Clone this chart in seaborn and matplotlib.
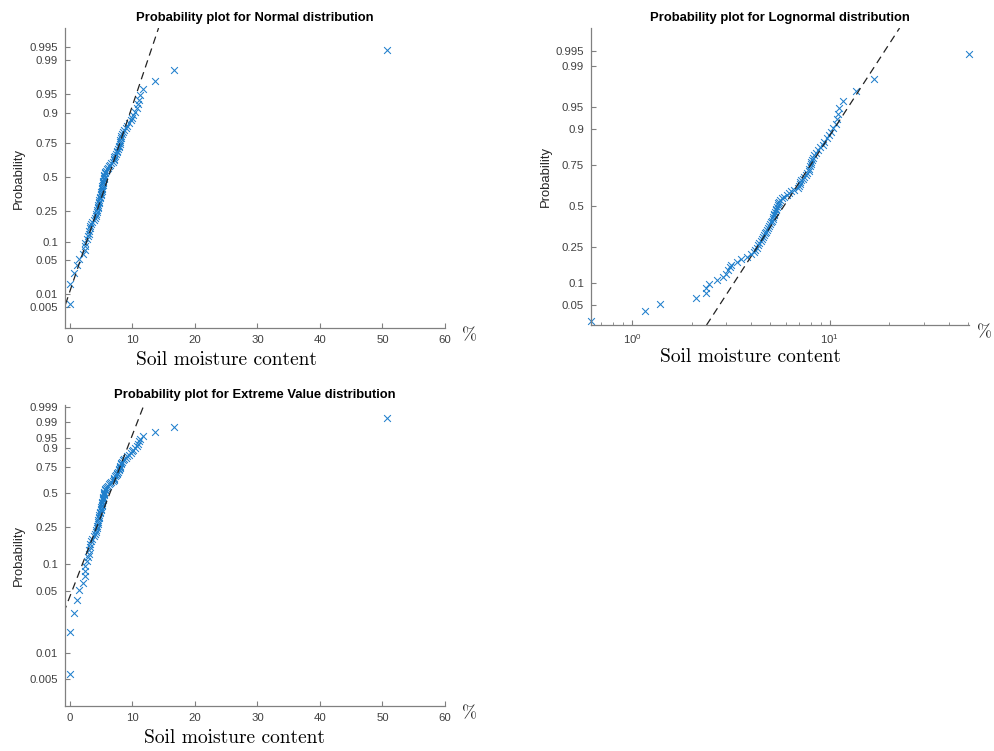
import math
from statistics import NormalDist

import matplotlib
matplotlib.use("Agg")
import matplotlib.pyplot as plt
import numpy as np
import pandas as pd
import seaborn as sns

# sorted soil moisture sample (%)
moisture = [
    0.0, 0.0, 0.62, 1.16, 1.38, 2.1, 2.37, 2.37, 2.46, 2.68,
    2.9, 2.99, 3.05, 3.13, 3.17, 3.4, 3.55, 3.8, 4.02, 4.12,
    4.2, 4.28, 4.35, 4.41, 4.5, 4.55, 4.6, 4.65, 4.7, 4.77,
    4.82, 4.9, 4.95, 5.0, 5.05, 5.1, 5.14, 5.18, 5.22, 5.25,
    5.3, 5.35, 5.38, 5.4, 5.45, 5.5, 5.55, 5.6, 5.75, 5.9,
    6.1, 6.25, 6.4, 6.6, 6.9, 7.0, 7.05, 7.1, 7.2, 7.3,
    7.45, 7.6, 7.7, 7.85, 7.9, 7.95, 8.0, 8.05, 8.1, 8.2,
    8.3, 8.5, 8.7, 8.9, 9.2, 9.4, 9.7, 9.9, 10.1, 10.4,
    10.8, 10.9, 11.0, 11.2, 11.66, 13.6, 16.7, 50.7,
]

normal_ticks = [0.005, 0.01, 0.05, 0.1, 0.25, 0.5, 0.75, 0.9, 0.95, 0.99, 0.995]
lognormal_ticks = [0.05, 0.1, 0.25, 0.5, 0.75, 0.9, 0.95, 0.99, 0.995]
ev_ticks = [0.005, 0.01, 0.05, 0.1, 0.25, 0.5, 0.75, 0.9, 0.95, 0.99, 0.999]

BLUE = "#1f7fcc"
GREY = "#808080"
TXT = "#404040"

nd = NormalDist()


def norm_q(p):
    return nd.inv_cdf(p)


def ev_q(p):
    # minimum extreme value (Gumbel) quantile on standard scale
    return math.log(-math.log(1.0 - p))


n = len(moisture)
df = pd.DataFrame({"moisture": moisture})
df["p"] = (np.arange(1, n + 1) - 0.5) / n
df["z"] = df["p"].map(norm_q)
df["ev"] = df["p"].map(ev_q)

# reference line through the first and third quartiles (like MATLAB probplot)
q25, q75 = np.percentile(df["moisture"], [25, 75], method="hazen")

sns.set_style("ticks")
plt.rcParams["font.family"] = ["Liberation Sans", "DejaVu Sans"]
plt.rcParams.update({
    "axes.edgecolor": GREY,
    "axes.linewidth": 0.9,
    "xtick.color": GREY,
    "ytick.color": GREY,
    "xtick.labelcolor": TXT,
    "ytick.labelcolor": TXT,
    "xtick.direction": "in",
    "ytick.direction": "in",
    "xtick.major.size": 3.5,
    "ytick.major.size": 3.5,
    "xtick.minor.size": 2,
    "xtick.major.pad": 5.0,
    "ytick.major.pad": 5.0,
    "xtick.labelsize": 8.2,
    "ytick.labelsize": 8.2,
})

fig = plt.figure(figsize=(9.95, 7.51), dpi=100)
ax_n = fig.add_axes([0.0653, 0.5632, 0.3819, 0.3995])
ax_l = fig.add_axes([0.5940, 0.5672, 0.3799, 0.3955])
ax_e = fig.add_axes([0.0653, 0.0599, 0.3819, 0.4008])

dash = (0, (6, 4))
serif = "cmr10"


def finish(ax, title, ticks, qfun, lbl_x, pct_x):
    ax.set_yticks([qfun(p) for p in ticks])
    ax.set_yticklabels([f"{p:g}" for p in ticks])
    ax.set_title(title, fontsize=9.4, fontweight="bold", color="black", pad=5)
    ax.set_ylabel("Probability", fontsize=9.4, color="#262626", labelpad=3)
    ax.set_xlabel("Soil moisture content", fontsize=14, family=serif, color="black")
    ax.xaxis.set_label_coords(lbl_x, -0.078)
    ax.text(pct_x, -0.025, "%", transform=ax.transAxes, fontsize=13, family=serif,
            ha="left", va="center")
    sns.despine(ax=ax)


# Normal
sig = (q75 - q25) / (norm_q(0.75) - norm_q(0.25))
mu = q25 - sig * norm_q(0.25)
zlim = (-3.0, 2.96)
sns.lineplot(x=[mu + sig * zlim[0], mu + sig * zlim[1]], y=list(zlim), color="#222222",
             lw=0.9, linestyle=dash, ax=ax_n)
sns.scatterplot(data=df, x="moisture", y="z", marker="x", color=BLUE, s=24,
                linewidth=0.75, clip_on=False, ax=ax_n)
ax_n.set_xlim(-0.8, 60)
ax_n.set_ylim(*zlim)
ax_n.set_xticks([0, 10, 20, 30, 40, 50, 60])
finish(ax_n, "Probability plot for Normal distribution", normal_ticks, norm_q, 0.425, 1.045)

# Lognormal
pos = df[df["moisture"] > 0]
lsig = (math.log(q75) - math.log(q25)) / (norm_q(0.75) - norm_q(0.25))
lmu = math.log(q25) - lsig * norm_q(0.25)
llim = (-1.98, 2.96)
ax_l.set_xscale("log")
sns.lineplot(x=[math.exp(lmu + lsig * llim[0]), math.exp(lmu + lsig * llim[1])],
             y=list(llim), color="#222222", lw=0.9, linestyle=dash, ax=ax_l)
sns.scatterplot(data=pos, x="moisture", y="z", marker="x", color=BLUE, s=24,
                linewidth=0.75, clip_on=False, ax=ax_l)
ax_l.set_xlim(pos["moisture"].min(), pos["moisture"].max())
ax_l.set_ylim(*llim)
finish(ax_l, "Probability plot for Lognormal distribution", lognormal_ticks, norm_q, 0.423, 1.022)

# Extreme value
esig = (q75 - q25) / (ev_q(0.75) - ev_q(0.25))
emu = q25 - esig * ev_q(0.25)
elim = (-6.02, 1.986)
sns.lineplot(x=[emu + esig * elim[0], emu + esig * elim[1]], y=list(elim), color="#222222",
             lw=0.9, linestyle=dash, ax=ax_e)
sns.scatterplot(data=df, x="moisture", y="ev", marker="x", color=BLUE, s=24,
                linewidth=0.75, clip_on=False, ax=ax_e)
ax_e.set_xlim(-0.8, 60)
ax_e.set_ylim(*elim)
ax_e.set_xticks([0, 10, 20, 30, 40, 50, 60])
finish(ax_e, "Probability plot for Extreme Value distribution", ev_ticks, ev_q, 0.445, 1.045)

fig.savefig("out.png", dpi=100)
